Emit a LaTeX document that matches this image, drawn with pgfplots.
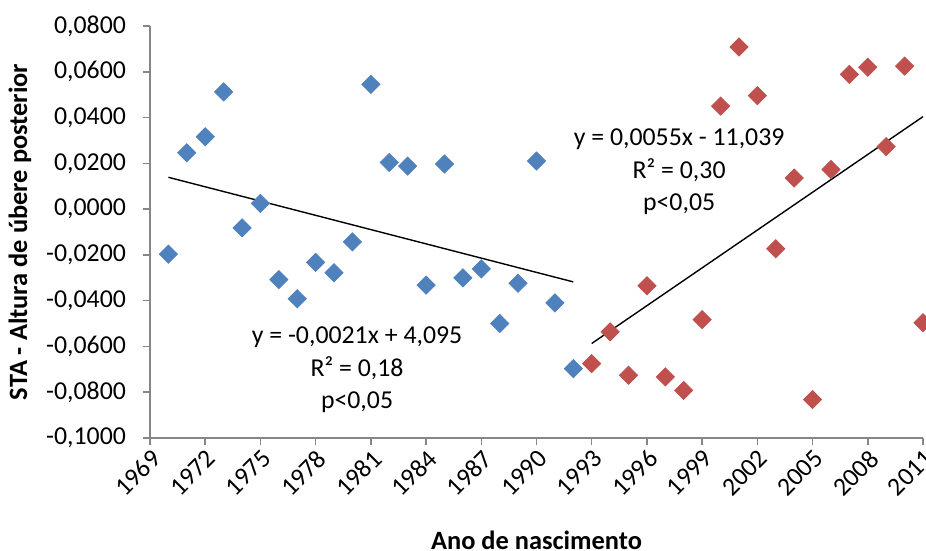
\documentclass[border=0pt]{standalone}
\usepackage{fontspec}
\setmainfont{Carlito}
\usepackage{pgfplots}
\pgfplotsset{compat=1.18}
\definecolor{sblue}{HTML}{4F81BD}
\definecolor{sred}{HTML}{C0504D}
\definecolor{axgray}{HTML}{868686}

\begin{document}
\begin{tikzpicture}
\begin{axis}[
  scale only axis, width=386.5pt, height=206pt,
  at={(0,0)}, anchor=south west,
  xmin=1969, xmax=2011, ymin=-0.1, ymax=0.08,
  clip=false,
  axis x line*=bottom, axis y line*=left,
  axis line style={axgray, line width=0.75pt, -},
  tick style={axgray, line width=0.75pt},
  tick align=outside, major tick length=3.5pt,
  xtick={1969,1972,1975,1978,1981,1984,1987,1990,1993,1996,1999,2002,2005,2008,2011},
  xticklabels={1969,1972,1975,1978,1981,1984,1987,1990,1993,1996,1999,2002,2005,2008,2011},
  ytick={-0.1,-0.08,-0.06,-0.04,-0.02,0,0.02,0.04,0.06,0.08},
  yticklabels={{-0,1000},{-0,0800},{-0,0600},{-0,0400},{-0,0200},{0,0000},{0,0200},{0,0400},{0,0600},{0,0800}},
  tick label style={font=\fontsize{12.9}{15}\selectfont},
  yticklabel style={anchor=east, xshift=-5pt},
  xticklabel style={rotate=45, anchor=north east, inner sep=1pt},
  every axis y label/.style={at={(axis description cs:0,0.5)}, xshift=-65pt, rotate=90, anchor=center,
    font=\bfseries\fontsize{13.2}{15}\selectfont},
  every axis x label/.style={at={(axis description cs:0.5,0)}, yshift=-51pt, anchor=center,
    font=\bfseries\fontsize{13.2}{15}\selectfont},
  ylabel={STA - Altura de úbere posterior},
  xlabel={Ano de nascimento},
]
\addplot[only marks, mark=square*, mark size=3.2pt, mark options={rotate=45, fill=sblue, draw=sblue}]
coordinates {
(1970,-0.0197) (1971,0.0246) (1972,0.0316) (1973,0.0512) (1974,-0.0082)
(1975,0.0025) (1976,-0.0308) (1977,-0.0392) (1978,-0.0233) (1979,-0.0278)
(1980,-0.0143) (1981,0.0545) (1982,0.0204) (1983,0.0188) (1984,-0.0332)
(1985,0.0197) (1986,-0.0300) (1987,-0.0261) (1988,-0.0500) (1989,-0.0324)
(1990,0.0210) (1991,-0.0410) (1992,-0.0697)
};
\addplot[only marks, mark=square*, mark size=3.2pt, mark options={rotate=45, fill=sred, draw=sred}]
coordinates {
(1993,-0.0675) (1994,-0.0536) (1995,-0.0726) (1996,-0.0335) (1997,-0.0733)
(1998,-0.0792) (1999,-0.0483) (2000,0.0450) (2001,0.0708) (2002,0.0496)
(2003,-0.0173) (2004,0.0136) (2005,-0.0832) (2006,0.0173) (2007,0.0589)
(2008,0.0620) (2009,0.0273) (2010,0.0625) (2011,-0.0496)
};
\addplot[black, line width=0.7pt] coordinates {(1970,0.0139) (1992,-0.0318)};
\addplot[black, line width=0.7pt] coordinates {(1993,-0.0587) (2011,0.0404)};
\node[align=center, font=\fontsize{12.9}{16.25}\selectfont] at (axis cs:1980.25,-0.0703)
  {y = -0,0021x + 4,095\\R² = 0,18\\p<0,05};
\node[align=center, font=\fontsize{12.9}{16.25}\selectfont] at (axis cs:1997.75,0.0162)
  {y = 0,0055x - 11,039\\R² = 0,30\\p<0,05};
\end{axis}
\pgfresetboundingbox
\path[use as bounding box] (-75pt,-56.5pt) rectangle (388pt,219pt);
\end{tikzpicture}
\end{document}
